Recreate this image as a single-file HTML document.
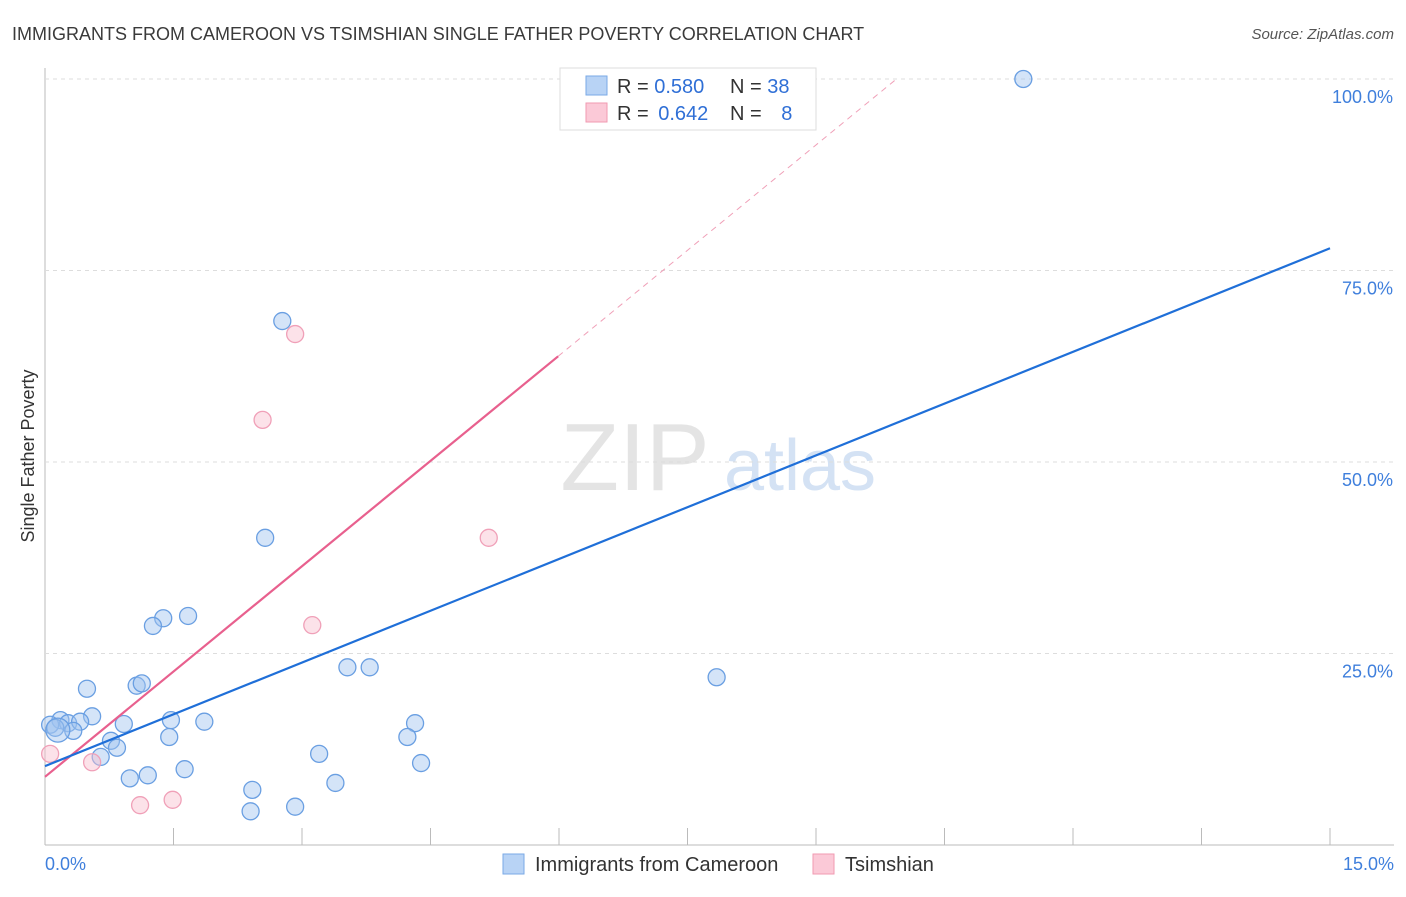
<!DOCTYPE html>
<html><head><meta charset="utf-8"><style>
body{margin:0;background:#fff;font-family:"Liberation Sans",sans-serif;}
svg text{font-family:"Liberation Sans",sans-serif;}
</style></head><body>
<svg id="chart" width="1406" height="892" xmlns="http://www.w3.org/2000/svg">
<text x="12" y="40" font-size="18" fill="#3a3a3a">IMMIGRANTS FROM CAMEROON VS TSIMSHIAN SINGLE FATHER POVERTY CORRELATION CHART</text>
<text x="1394" y="39" font-size="15" fill="#555" font-style="italic" text-anchor="end">Source: ZipAtlas.com</text>
<text transform="translate(34,456) rotate(-90)" font-size="18" fill="#333" text-anchor="middle">Single Father Poverty</text>
<g>
<text x="635" y="490" font-size="96" fill="#e4e4e4" font-family="Liberation Serif" text-anchor="middle">ZIP</text>
<text x="800" y="490" font-size="72" fill="#d4e2f4" text-anchor="middle">atlas</text>
</g>
<g id="grid"></g>
<g id="marks"></g>
<g>
<rect x="560" y="68" width="256" height="62" fill="#fff" stroke="#ddd"/>
<rect x="586" y="76" width="21" height="19" fill="#b8d3f5" stroke="#7aaae6"/>
<rect x="586" y="103" width="21" height="19" fill="#fbc9d7" stroke="#f09ab2"/>
<text x="617" y="93" font-size="20" fill="#333">R = <tspan fill="#2f6fd6">0.580</tspan></text>
<text x="730" y="93" font-size="20" fill="#333">N = <tspan fill="#2f6fd6">38</tspan></text>
<text x="617" y="120" font-size="20" fill="#333">R = <tspan fill="#2f6fd6" dx="4">0.642</tspan></text>
<text x="730" y="120" font-size="20" fill="#333">N = <tspan fill="#2f6fd6" dx="14">8</tspan></text>
</g>
<g>
<rect x="503" y="854" width="21" height="20" fill="#b8d3f5" stroke="#7aaae6"/>
<text x="535" y="871" font-size="20" fill="#333">Immigrants from Cameroon</text>
<rect x="813" y="854" width="21" height="20" fill="#fbc9d7" stroke="#f09ab2"/>
<text x="845" y="871" font-size="20" fill="#333">Tsimshian</text>
</g>
</svg>
<script>
const yTicks=[25,50,75,100];
const yTickLabels=["25.0%","50.0%","75.0%","100.0%"];
const xTickLabels=["0.0%","15.0%"];
const blueX=[11.42,2.77,2.57,1.67,1.38,1.26,3.53,3.79,7.84,0.49,1.07,1.13,0.55,1.47,1.86,0.92,4.32,0.18,0.27,0.41,0.06,0.12,0.33,1.45,4.23,0.77,0.84,0.65,3.20,4.39,1.63,0.99,1.20,3.39,2.42,2.40,2.92,0.15];
const blueY=[100,68.4,40.1,29.9,29.6,28.6,23.2,23.2,21.9,20.4,20.8,21.1,16.8,16.3,16.1,15.8,15.9,16.3,15.9,16.1,15.7,15.3,14.9,14.1,14.1,13.6,12.7,11.5,11.9,10.7,9.9,8.7,9.1,8.1,7.2,4.4,5.0,15.0];
const pinkX=[2.92,2.54,5.18,3.12,0.55,0.06,1.11,1.49];
const pinkY=[66.7,55.5,40.1,28.7,10.8,11.9,5.2,5.9];
const blueLine=[10.3,77.9];
const pinkLine=[8.9,63.8,5.99];
const NS="http://www.w3.org/2000/svg";
const X=v=>45+v/15*1285, Y=v=>845-v*7.66;
function mk(p,t,a){const e=document.createElementNS(NS,t);for(const k in a)e.setAttribute(k,a[k]);p.appendChild(e);return e;}
const g=document.getElementById('grid'),m=document.getElementById('marks');
let ax=mk(g,'line',{x1:45,y1:68,x2:45,y2:845,stroke:'#bbb'});


let bx=mk(g,'line',{x1:45,y1:845,x2:1394,y2:845,stroke:'#bbb'});


yTicks.forEach((t,i)=>{
 const l=mk(g,'line',{x1:45,x2:1394,y1:Y(t),y2:Y(t),stroke:'#ddd','stroke-dasharray':'4,4'});
 
 
 const tx=mk(g,'text',{x:1393,y:Y(t)+24,'font-size':18,fill:'#3f7fdc','text-anchor':'end'});
 tx.textContent=yTickLabels[i];
 
 
});
for(let i=1;i<=10;i++){
 const l=mk(g,'line',{x1:X(i*1.5),x2:X(i*1.5),y1:828,y2:845,stroke:'#bbb'});
 
 
}
let t0=mk(g,'text',{x:45,y:870,'font-size':18,fill:'#3f7fdc'});t0.textContent=xTickLabels[0];


let t1=mk(g,'text',{x:1394,y:870,'font-size':18,fill:'#3f7fdc','text-anchor':'end'});t1.textContent=xTickLabels[1];


blueX.forEach((x,i)=>{
 const c=mk(m,'circle',{cx:X(x),cy:Y(blueY[i]),r:(i==blueX.length-1?12:8.5),fill:'rgba(160,196,240,0.45)',stroke:'#6a9fe2','stroke-width':1.3});
 
 
});
pinkX.forEach((x,i)=>{
 const c=mk(m,'circle',{cx:X(x),cy:Y(pinkY[i]),r:8.5,fill:'rgba(248,190,206,0.45)',stroke:'#f0a0b8','stroke-width':1.3});
 
 
});
const slope=(pinkLine[1]-pinkLine[0])/pinkLine[2];
const xEnd=(100-pinkLine[0])/slope;
let pd=mk(m,'line',{x1:X(pinkLine[2]),y1:Y(pinkLine[1]),x2:X(xEnd),y2:Y(100),stroke:'#f0a0b8','stroke-dasharray':'6,5'});


let pl=mk(m,'line',{x1:X(0),y1:Y(pinkLine[0]),x2:X(pinkLine[2]),y2:Y(pinkLine[1]),stroke:'#e8608e','stroke-width':2.2});


let bl=mk(m,'line',{x1:X(0),y1:Y(blueLine[0]),x2:X(15),y2:Y(blueLine[1]),stroke:'#1f6fd8','stroke-width':2.2});


</script>
</body></html>
